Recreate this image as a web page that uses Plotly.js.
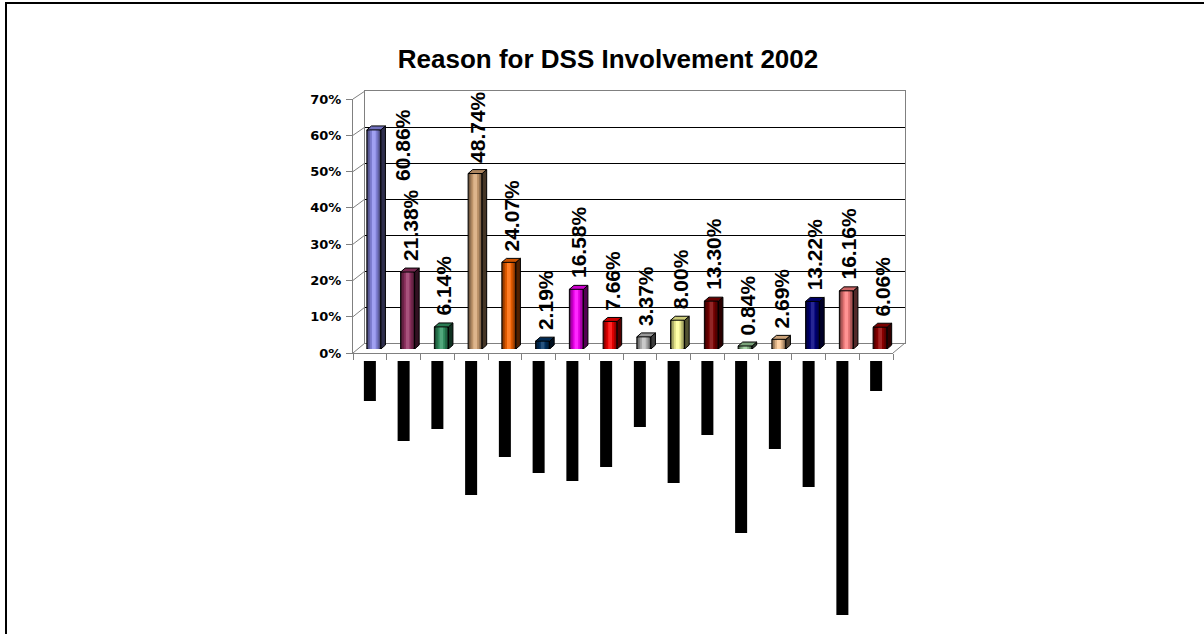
<!DOCTYPE html>
<html><head><meta charset="utf-8">
<script src="https://cdn.plot.ly/plotly-3.0.1.min.js"></script>
<style>html,body{margin:0;padding:0;background:#fff;}#chart{width:1204px;height:634px;}</style>
</head><body><div id="chart"></div>
<script>
// ---- data ----
const chartTitle = 'Reason for DSS Involvement 2002';
const values = [60.86, 21.38, 6.14, 48.74, 24.07, 2.19, 16.58, 7.66, 3.37, 8.00, 13.30, 0.84, 2.69, 13.22, 16.16, 6.06];
const valueLabels = ['60.86%', '21.38%', '6.14%', '48.74%', '24.07%', '2.19%', '16.58%', '7.66%', '3.37%', '8.00%', '13.30%', '0.84%', '2.69%', '13.22%', '16.16%', '6.06%'];
const barColors = ['#8F8FEE', '#993366', '#339966', '#D8A878', '#FF6600', '#003366', '#FF00FF', '#FF0000', '#C0C0C0', '#FFFF99', '#800000', '#99CC99', '#FFCC99', '#000080', '#FF8080', '#990000'];
const yTickVals = [0, 10, 20, 30, 40, 50, 60, 70];
const yTickText = ['0%', '10%', '20%', '30%', '40%', '50%', '60%', '70%'];
// category labels render as solid black blocks in the source; their lengths (px)
const categoryLabelLengths = [40, 80, 68, 134, 96, 112, 120, 106, 66, 122, 74, 172, 88, 126, 254, 30];

// ---- layout helpers ----
const W = 1204, H = 634;
const px = x => x / W;
const py = y => (H - y) / H;
const n = values.length;
const idx = values.map((_, i) => i);

function hexToRgb(h) { h = h.replace('#', ''); return [0, 2, 4].map(k => parseInt(h.substr(k, 2), 16)); }
function rgb(a) { return 'rgb(' + a.map(v => Math.max(0, Math.min(255, Math.round(v)))).join(',') + ')'; }
function shade(h, f) { return rgb(hexToRgb(h).map(v => v * f)); }
function tint(h, f) { return rgb(hexToRgb(h).map(v => v + (255 - v) * f)); }

// geometry (pixels -> domains)
const wall = { x0: 365, x1: 905, yb: 343, yt: 91 };
const front = { x0: 353, x1: 893, yb: 353, yt: 99 };
const barsBox = { x0: 357, x1: 897, yb: 349, yt: 97 };
const labelsTop = 361;

const BW = 0.415;         // front face width (category units)
const DX = 0.135;         // depth offset x (category units)
const DY = 1.1;           // depth offset y (percent units)

const traces = [];
// placeholder traces so the wall and front-axis subplots are drawn
traces.push({ type: 'scatter', x: [0], y: [0], mode: 'none', xaxis: 'x', yaxis: 'y', hoverinfo: 'skip', showlegend: false });
traces.push({ type: 'scatter', x: [0], y: [0], mode: 'none', xaxis: 'x2', yaxis: 'y2', hoverinfo: 'skip', showlegend: false });

const layers = [
  { w: BW, col: c => shade(c, 0.45), line: 1 },
  { w: 0.33, col: c => shade(c, 0.68), line: 0 },
  { w: 0.22, col: c => shade(c, 0.88), line: 0 },
  { w: 0.11, col: c => tint(c, 0.15), line: 0 }
];
layers.forEach(L => {
  traces.push({
    type: 'bar', x: idx, y: values, width: L.w, xaxis: 'x3', yaxis: 'y3',
    marker: { color: barColors.map(L.col), line: { color: '#000', width: L.line } },
    hoverinfo: 'skip', showlegend: false
  });
});
// category label blocks
traces.push({
  type: 'bar', x: idx, y: categoryLabelLengths, width: 0.356, xaxis: 'x2', yaxis: 'y4',
  marker: { color: '#000', line: { width: 0 } }, hoverinfo: 'skip', showlegend: false
});

const shapes = [];
// 3D side and top faces
values.forEach((v, i) => {
  const l = i - BW / 2, r = i + BW / 2;
  shapes.push({
    type: 'path', xref: 'x3', yref: 'y3', layer: 'above',
    path: `M${r},0 L${r + DX},${DY} L${r + DX},${v + DY} L${r},${v} Z`,
    fillcolor: shade(barColors[i], 0.32), line: { color: '#000', width: 1 }
  });
  shapes.push({
    type: 'path', xref: 'x3', yref: 'y3', layer: 'above',
    path: `M${l},${v} L${l + DX},${v + DY} L${r + DX},${v + DY} L${r},${v} Z`,
    fillcolor: shade(barColors[i], 0.8), line: { color: '#000', width: 1 }
  });
});
// side wall / floor diagonals
const grey = '#808080';
const yFront = v => front.yb - (front.yb - front.yt) * v / 70;
const yWall = v => wall.yb - (wall.yb - wall.yt) * v / 70;
yTickVals.forEach(v => {
  shapes.push({ type: 'line', xref: 'paper', yref: 'paper', layer: 'below',
    x0: px(front.x0), y0: py(yFront(v)), x1: px(wall.x0), y1: py(yWall(v)), line: { color: grey, width: 1 } });
});
shapes.push({ type: 'line', xref: 'paper', yref: 'paper', layer: 'below',
  x0: px(front.x1), y0: py(front.yb), x1: px(wall.x1), y1: py(wall.yb), line: { color: grey, width: 1 } });
// outer frame
shapes.push({ type: 'rect', xref: 'paper', yref: 'paper', layer: 'above',
  x0: px(6), x1: 1.05, y0: -0.05, y1: py(3), line: { color: '#000', width: 2 } });

// data labels
const annotations = values.map((v, i) => {
  const overflow = v + 21 > 75;
  return {
    xref: 'x3', yref: 'y3', showarrow: false, textangle: -90,
    x: overflow ? i + 0.83 : i + DX / 2, y: overflow ? 70 : v + DY,
    xanchor: 'center', yanchor: overflow ? 'top' : 'bottom', yshift: overflow ? -10 : 5,
    text: valueLabels[i],
    font: { family: 'Liberation Sans, Arial, sans-serif', size: 21, color: '#000', weight: 700 }
  };
});

const layout = {
  width: W, height: H,
  margin: { l: 0, r: 0, t: 0, b: 0 },
  paper_bgcolor: '#fff', plot_bgcolor: 'rgba(0,0,0,0)',
  barmode: 'overlay', showlegend: false,
  title: { text: chartTitle, x: px(608), xanchor: 'center', xref: 'paper', y: py(59), yanchor: 'middle', yref: 'container',
    font: { family: 'Liberation Sans, Arial, sans-serif', size: 26, color: '#000', weight: 700 } },
  // back wall
  xaxis: { domain: [px(wall.x0), px(wall.x1)], range: [-0.5, 15.5], showgrid: false, zeroline: false,
    showticklabels: false, ticks: '', showline: true, linecolor: grey, linewidth: 1, mirror: true, anchor: 'y', fixedrange: true },
  yaxis: { domain: [py(wall.yb), py(wall.yt)], range: [0, 70], tickmode: 'array', tickvals: yTickVals.slice(1, -1), showgrid: true,
    gridcolor: '#000', gridwidth: 1, zeroline: false, showticklabels: false, ticks: '', showline: true, linecolor: grey,
    linewidth: 1, mirror: true, anchor: 'x', fixedrange: true },
  // front axes
  xaxis2: { domain: [px(front.x0), px(front.x1)], range: [-0.5, 15.5], showgrid: false, zeroline: false,
    tickmode: 'array', tickvals: [...idx.map(i => i - 0.5), n - 0.5], ticks: 'outside', ticklen: 6, tickcolor: grey, tickwidth: 1,
    showticklabels: false, showline: true, linecolor: grey, linewidth: 1, anchor: 'y2', fixedrange: true },
  yaxis2: { domain: [py(front.yb), py(front.yt)], range: [0, 70], tickmode: 'array', tickvals: yTickVals, ticktext: yTickText,
    showgrid: false, zeroline: false, ticks: 'outside', ticklen: 6, tickcolor: grey, tickwidth: 1,
    showline: true, linecolor: grey, linewidth: 1, anchor: 'x2', ticklabelstandoff: 2,
    tickfont: { family: 'DejaVu Sans, sans-serif', size: 13, color: '#000', weight: 700 }, fixedrange: true },
  // bars
  xaxis3: { domain: [px(barsBox.x0), px(barsBox.x1)], range: [-0.5, 15.5], visible: false, anchor: 'y3', fixedrange: true },
  yaxis3: { domain: [py(barsBox.yb), py(barsBox.yt)], range: [0, 70], visible: false, anchor: 'x3', fixedrange: true },
  // category label blocks (1 unit = 1 px, growing downward)
  yaxis4: { domain: [0, py(labelsTop)], range: [H - labelsTop, 0], visible: false, anchor: 'x2', fixedrange: true },
  shapes: shapes,
  annotations: annotations
};

Plotly.newPlot('chart', traces, layout, { displayModeBar: false, staticPlot: true });
</script>
</body></html>
